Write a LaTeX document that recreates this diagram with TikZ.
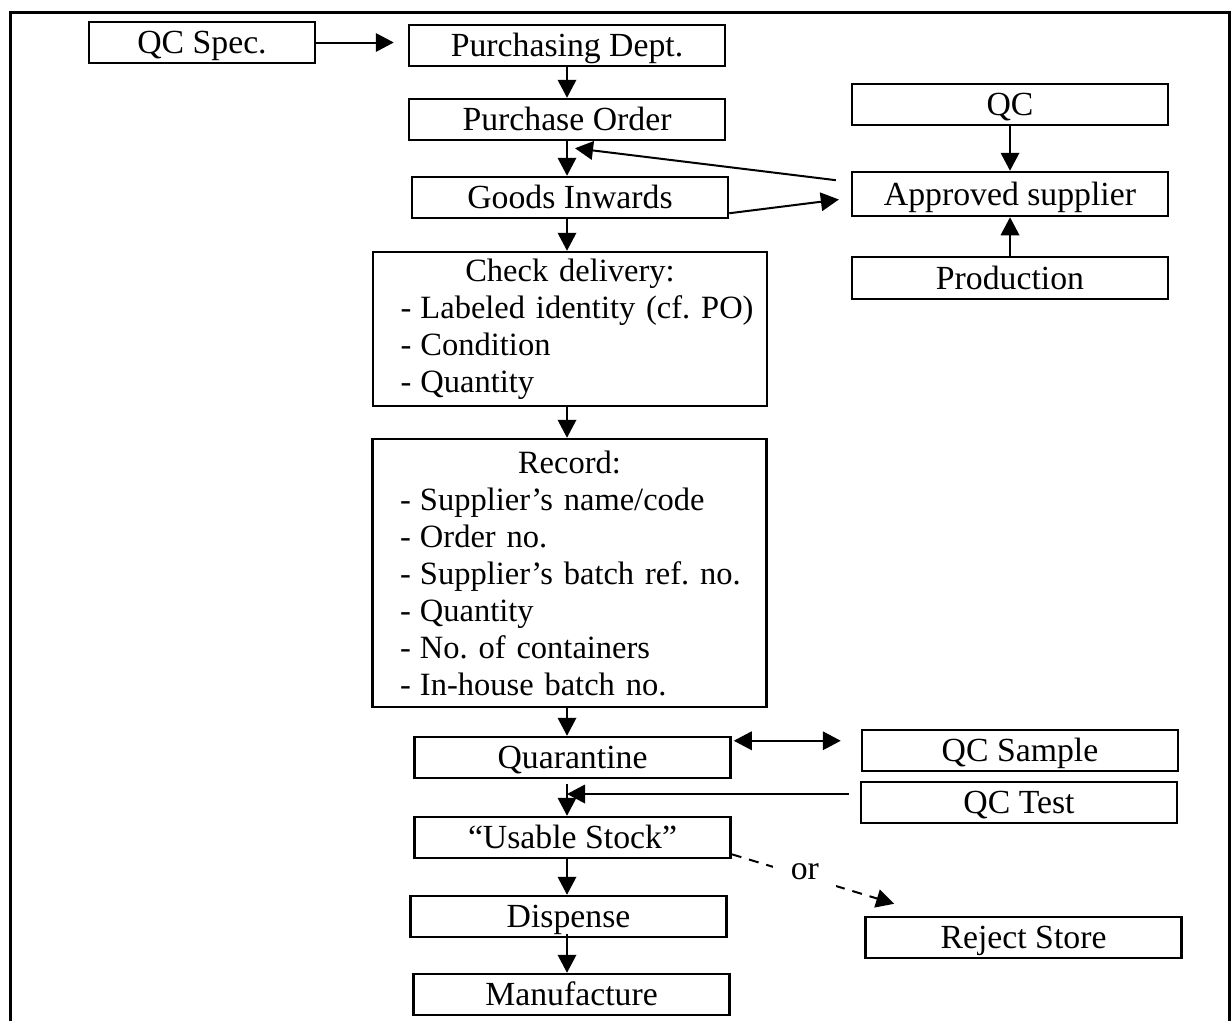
\documentclass[tikz,border=0pt]{standalone}
\usepackage{fontspec}
\setmainfont{Liberation Serif}
\usetikzlibrary{arrows.meta,positioning}

\newcommand{\itm}[1]{\hspace*{11pt}\makebox[8pt][l]{-}\mbox{#1}}

\begin{document}
\begin{tikzpicture}[x=0.4pt,y=-0.4pt,>={Triangle[length=7.2pt,width=7.4pt]},
    box/.style={draw,line width=1pt,minimum width=126.4pt,minimum height=16.4pt,inner sep=0pt,text height=11pt,text depth=2pt,font=\fontsize{13.5}{14.8}\selectfont},
    list/.style={draw,line width=1pt,text width=157.6pt,inner sep=0pt,align=left,font=\fontsize{13}{14.8}\selectfont},
    arr/.style={line width=0.8pt,->}]
        \useasboundingbox (0,0) rectangle (1231,1021);
        \draw[line width=1.2pt] (10,1021) -- (10,12) -- (1229,12) -- (1229,1021);
        \coordinate (spine) at (567,0);
        % main column
        \node[box,minimum width=90.4pt] (qcspec) at (202,42.5) {QC Spec.};
        \node[box] (purch) at (567,45.5) {Purchasing Dept.};
        \node[box] (po) at (567,119.5) {Purchase Order};
        \node[box] (goods) at (570,197.5) {Goods Inwards};
        \node[list,minimum height=61.6pt] (check) at (570,329) {\hfill Check delivery:\hfill\mbox{}\\
            \itm{Labeled identity (cf.\ PO)}\\
            \itm{Condition}\\
            \itm{Quantity}};
        \node[list,minimum height=107.2pt] (record) at (569.5,573) {\hfill Record:\hfill\mbox{}\\
            \itm{Supplier’s name/code}\\
            \itm{Order no.}\\
            \itm{Supplier’s batch ref.\ no.}\\
            \itm{Quantity}\\
            \itm{No.\ of containers}\\
            \itm{In-house batch no.}};
        \node[box] (quar) at (572.5,757.5) {Quarantine};
        \node[box] (usable) at (572.5,837.5) {“Usable Stock”};
        \node[box] (disp) at (568.5,916.5) {Dispense};
        \node[box] (manuf) at (571.5,994.5) {Manufacture};
        % right column
        \node[box] (qc) at (1010,104.5) {QC};
        \node[box,minimum height=17.6pt] (appr) at (1010,194) {Approved supplier};
        \node[box,minimum height=16.8pt] (prod) at (1010,278) {Production};
        \node[box] (sample) at (1020,750.5) {QC Sample};
        \node[box] (test) at (1019,802.5) {QC Test};
        \node[box] (reject) at (1023.5,937.5) {Reject Store};
        % arrows
        \draw[arr,shorten >=5.6pt] (qcspec.east) -- (qcspec.east -| purch.west);
        \draw[arr] (purch.south -| spine) -- (po.north -| spine);
        \draw[arr] (po.south -| spine) -- (goods.north -| spine);
        \draw[arr] (goods.south -| spine) -- (check.north -| spine);
        \draw[arr] (check.south -| spine) -- (record.north -| spine);
        \draw[arr] (record.south -| spine) -- (quar.north -| spine);
        \draw[arr] ([yshift=-2pt]quar.south -| spine) -- (usable.north -| spine);
        \draw[arr] (usable.south -| spine) -- (disp.north -| spine);
        \draw[arr] ([yshift=1.6pt]disp.south -| spine) -- (manuf.north -| spine);
        \draw[arr] (qc) -- (appr);
        \draw[arr] (prod) -- (appr);
        \coordinate (poin) at ([xshift=3.2pt,yshift=-2.8pt]po.south);
        \draw[arr,shorten <=6pt] ([yshift=4.8pt]appr.west) -- (poin);
        \draw[arr,shorten >=4.8pt] ([yshift=2.4pt]goods.south east) -- ([yshift=-1.6pt]appr.west);
        \draw[line width=0.8pt,<->,shorten <=0.8pt,shorten >=8pt] ([yshift=-2pt]quar.north east) -- ([yshift=-2pt]quar.north east -| sample.west);
        \draw[arr,shorten <=4.4pt] ([yshift=3.4pt]test.west) -- ([yshift=3.4pt]test.west -| spine);
        \draw[arr,dash pattern=on 4pt off 3.2pt] ([yshift=2pt]usable.south east) -- node[pos=0.45,fill=white,inner sep=7pt,yshift=2pt,font=\fontsize{13.5}{14.8}\selectfont] (or) {or} ([xshift=12pt,yshift=4.8pt]reject.north west);
    \end{tikzpicture}
\end{document}
